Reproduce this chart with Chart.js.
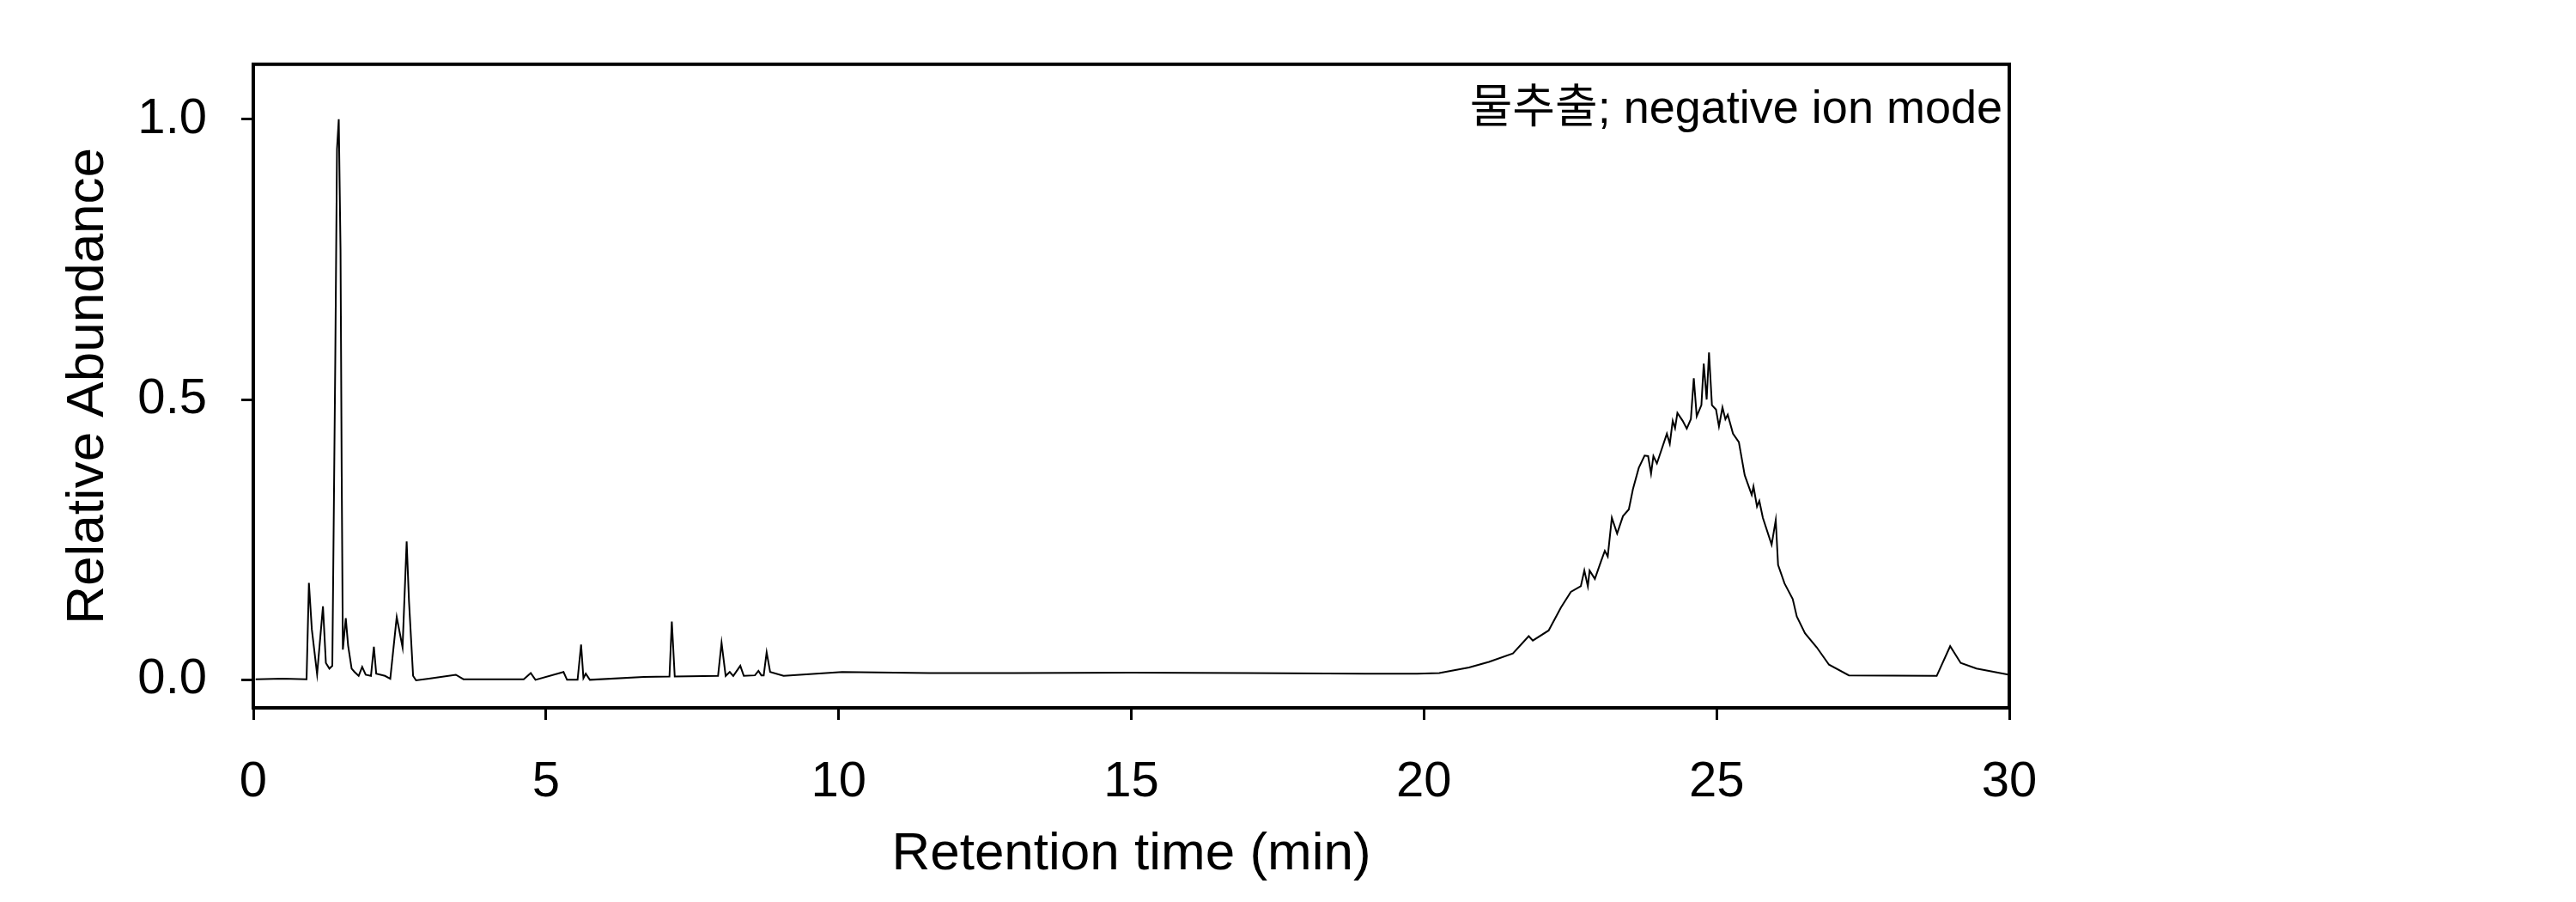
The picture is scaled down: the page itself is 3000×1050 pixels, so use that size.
<!DOCTYPE html>
<html><head><meta charset="utf-8">
<script src="https://cdn.jsdelivr.net/npm/chart.js@4"></script>
<style>html,body{margin:0;padding:0;background:#fff}#w{width:3000px;height:1050px}</style>
</head><body><div id="w"><canvas id="c"></canvas></div>
<script>
const times = [0.04,0.5,0.91,0.95,1.0,1.09,1.19,1.24,1.3,1.35,1.4,1.43,1.46,1.49,1.51,1.53,1.58,1.62,1.68,1.73,1.8,1.86,1.92,2.01,2.06,2.1,2.25,2.34,2.45,2.55,2.62,2.66,2.73,2.78,3.0,3.46,3.59,4.62,4.74,4.82,5.3,5.36,5.54,5.6,5.64,5.68,5.75,6.67,7.11,7.15,7.2,7.94,8.0,8.07,8.14,8.2,8.32,8.38,8.57,8.63,8.68,8.72,8.77,8.83,9.06,10.06,11.55,13,15,17,19,19.88,20.26,20.77,21.11,21.52,21.79,21.86,22.13,22.34,22.51,22.68,22.74,22.8,22.83,22.92,23.02,23.09,23.14,23.21,23.3,23.4,23.5,23.57,23.67,23.77,23.83,23.88,23.92,23.98,24.15,24.2,24.25,24.29,24.33,24.42,24.49,24.56,24.61,24.66,24.74,24.78,24.83,24.87,24.92,24.99,25.04,25.1,25.15,25.19,25.28,25.38,25.48,25.6,25.63,25.69,25.73,25.79,25.94,26.01,26.05,26.16,26.3,26.37,26.51,26.71,26.92,27.26,28.76,28.99,29.17,29.44,30];
const abundance = [0.001,0.002,0.001,0.173,0.09,0.01,0.131,0.03,0.02,0.025,0.565,0.947,1.0,0.767,0.37,0.054,0.11,0.061,0.02,0.014,0.007,0.023,0.009,0.007,0.059,0.011,0.007,0.002,0.112,0.058,0.247,0.14,0.007,-0.001,0.002,0.009,0.001,0.001,0.012,0.0,0.014,0.0,0.0,0.063,0.003,0.011,0.0,0.005,0.006,0.104,0.006,0.007,0.066,0.007,0.014,0.007,0.025,0.007,0.008,0.016,0.008,0.008,0.049,0.014,0.007,0.014,0.012,0.012,0.013,0.012,0.011,0.011,0.012,0.022,0.032,0.047,0.078,0.07,0.088,0.129,0.157,0.167,0.195,0.167,0.195,0.18,0.21,0.23,0.22,0.289,0.261,0.292,0.304,0.34,0.378,0.4,0.399,0.368,0.399,0.386,0.439,0.421,0.462,0.449,0.476,0.462,0.448,0.465,0.538,0.47,0.49,0.564,0.5,0.584,0.49,0.482,0.452,0.486,0.465,0.473,0.439,0.424,0.365,0.33,0.345,0.309,0.319,0.289,0.241,0.285,0.205,0.172,0.144,0.113,0.083,0.058,0.027,0.008,0.007,0.06,0.03,0.02,0.009];
const xTicks = [0,5,10,15,20,25,30];
const yTicks = [0.0,0.5,1.0];
const annotation = "물추출; negative ion mode";

const FONT = "'Liberation Sans', Arial, 'Noto Sans CJK KR', sans-serif";
const boxPlugin = {id:'box', afterDraw(ch){const a=ch.chartArea,c=ch.ctx;c.save();c.strokeStyle='#000';c.lineWidth=4;c.strokeRect(a.left,a.top,a.right-a.left,a.bottom-a.top);
 c.font="54px "+FONT;c.fillStyle='#000';c.textAlign='right';c.textBaseline='alphabetic';c.fillText(annotation,a.right-8,a.top+68);c.restore();}};
new Chart(document.getElementById('c'),{
 type:'line',
 data:{datasets:[{data:times.map((t,i)=>({x:t,y:abundance[i]})),borderColor:'#000',borderWidth:2,pointRadius:0,tension:0,fill:false}]},
 options:{responsive:true,maintainAspectRatio:false,animation:false,
  layout:{padding:{top:72,right:660,left:0,bottom:0}},
  plugins:{legend:{display:false},tooltip:{enabled:false}},
  scales:{
   x:{type:'linear',min:0,max:30,afterBuildTicks(s){s.ticks=xTicks.map(v=>({value:v}));},
      afterFit(s){s.height=226;},
      grid:{drawOnChartArea:false,drawTicks:true,tickLength:14,color:'#000',lineWidth:3},
      border:{display:true,color:'#000',width:4},
      ticks:{color:'#000',font:{family:FONT,size:58},padding:38,maxRotation:0,callback:v=>String(v)},
      title:{display:true,text:'Retention time (min)',color:'#000',font:{family:FONT,size:62},padding:{top:0,bottom:18}}},
   y:{min:-0.05,max:1.098,afterBuildTicks(s){s.ticks=yTicks.map(v=>({value:v}));},
      afterFit(s){s.width=295;},
      grid:{drawOnChartArea:false,drawTicks:true,tickLength:14,color:'#000',lineWidth:3},
      border:{display:true,color:'#000',width:4},
      ticks:{color:'#000',font:{family:FONT,size:58},padding:40,callback:v=>v.toFixed(1)},
      title:{display:true,text:'Relative Abundance',color:'#000',font:{family:FONT,size:62},padding:{top:66,bottom:0}}}
  }},
 plugins:[boxPlugin]});
</script></body></html>
